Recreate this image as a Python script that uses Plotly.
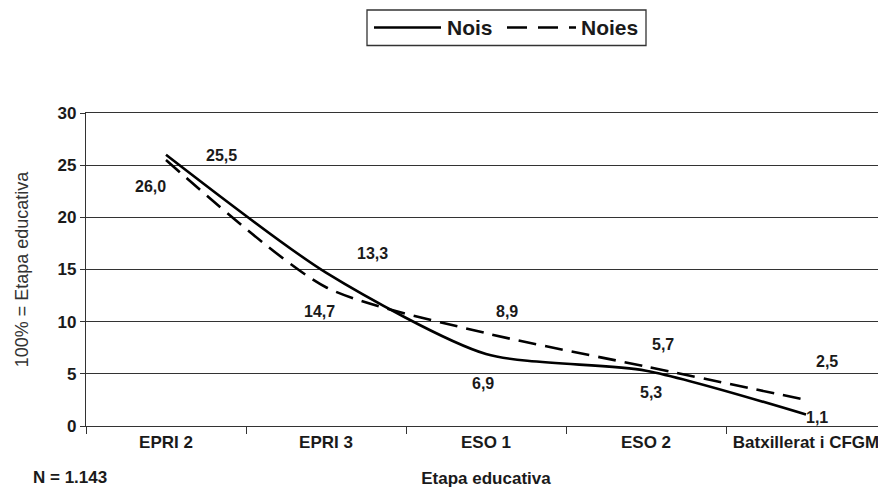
import plotly.graph_objects as go

categories = ["EPRI 2", "EPRI 3", "ESO 1", "ESO 2", "Batxillerat i CFGM"]
nois = [26.0, 14.7, 6.9, 5.3, 1.1]
noies = [25.5, 13.3, 8.9, 5.7, 2.5]
series_names = ["Nois", "Noies"]

# label pixel offsets (style only)
nois_off = [(-16, 32), (-7, 39), (-3, 29), (5, 22), (11, 3)]
noies_off = [(55, -4), (46, -34), (21, -22), (17, -22), (21, -38)]

FONT = "Liberation Sans, Arial, sans-serif"
INK = "#1a1a1a"
OFF = 8  # page body margin
W, H = 886 - OFF, 489 - OFF
# plot area in screen pixels: x 86..886, y 113..426
L, R, T, B = 86 - OFF, 0, 113 - OFF, 489 - 426
PW, PH = W - L - R, H - T - B

def px(x):
    return (x - OFF - L) / PW

def py(y):
    return (H - B - (y - OFF)) / PH

fig = go.Figure()
fig.add_trace(go.Scatter(x=categories, y=nois, name=series_names[0], mode="lines",
                         line=dict(color="black", width=2.6, shape="spline", smoothing=0.7),
                         showlegend=False))
fig.add_trace(go.Scatter(x=categories, y=noies, name=series_names[1], mode="lines",
                         line=dict(color="black", width=2.6, shape="spline", smoothing=0.7,
                                   dash="18px,9px"),
                         showlegend=False))

lab_font = dict(family=FONT, size=16, color=INK, weight="bold")
for vals, offs in ((nois, nois_off), (noies, noies_off)):
    for c, v, (dx, dy) in zip(categories, vals, offs):
        fig.add_annotation(x=c, y=v, text=f"{v:.1f}".replace(".", ","), showarrow=False,
                           xshift=dx, yshift=-dy, font=lab_font)

# manual legend
fig.add_shape(type="rect", xref="paper", yref="paper", x0=px(367), x1=px(646), y0=py(45.5), y1=py(10),
              line=dict(color="#333333", width=1.3))
fig.add_shape(type="line", xref="paper", yref="paper", x0=px(374), x1=px(441), y0=py(27.5), y1=py(27.5),
              line=dict(color="black", width=2.6))
fig.add_shape(type="line", xref="paper", yref="paper", x0=px(507), x1=px(576), y0=py(27.5), y1=py(27.5),
              line=dict(color="black", width=2.6, dash="20px,11px"))
leg_font = dict(family=FONT, size=21, color=INK, weight="bold")
fig.add_annotation(xref="paper", yref="paper", x=px(445), y=py(28), xanchor="left", yanchor="middle",
                   text=series_names[0], showarrow=False, font=leg_font)
fig.add_annotation(xref="paper", yref="paper", x=px(579), y=py(28), xanchor="left", yanchor="middle",
                   text=series_names[1], showarrow=False, font=leg_font)
fig.add_annotation(xref="paper", yref="paper", x=px(31), y=py(477), xanchor="left", yanchor="middle",
                   text="N = 1.143", showarrow=False,
                   font=dict(family=FONT, size=17, color=INK, weight="bold"))

fig.update_layout(
    width=W, height=H,
    margin=dict(l=L, r=R, t=T, b=B, autoexpand=False),
    paper_bgcolor="white", plot_bgcolor="white",
    font=dict(family=FONT, color=INK),
    showlegend=False,
)
fig.update_xaxes(
    type="category", range=[-0.5, len(categories) - 0.5],
    tickson="boundaries", ticks="outside", ticklen=7, tickcolor="#333333",
    showline=True, linecolor="#333333", linewidth=1.3, mirror=True, showgrid=False,
    automargin=False,
    tickfont=dict(family=FONT, size=17, color=INK, weight="bold"),
    title=dict(text="Etapa educativa", standoff=21,
               font=dict(family=FONT, size=17, color=INK, weight="bold")),
)
fig.update_yaxes(
    range=[0, 30], dtick=5, ticks="outside", ticklen=5, tickcolor="#333333",
    showline=True, linecolor="#333333", linewidth=1.3, mirror=True,
    showgrid=True, gridcolor="#333333", gridwidth=1, zeroline=False,
    automargin=False,
    tickfont=dict(family=FONT, size=17, color=INK, weight="bold"),
    title=dict(text="100% = Etapa educativa", standoff=24,
               font=dict(family=FONT, size=18, color="#333333")),
)
fig.write_html("out.html")
